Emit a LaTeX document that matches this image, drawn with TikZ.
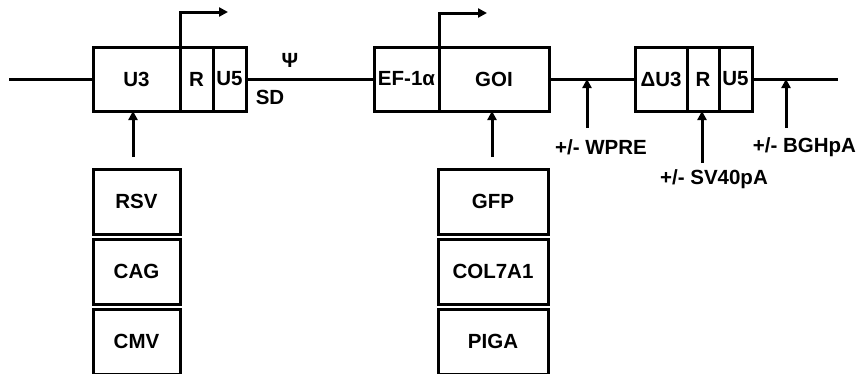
\documentclass[tikz,border=0pt]{standalone}
\usepackage{fontspec}
\setmainfont{Liberation Sans}
\usetikzlibrary{arrows.meta,positioning}
\begin{document}
\begin{tikzpicture}[
    x=1pt, y=-1pt,
    seg/.style={draw, line width=3pt, inner sep=0pt, outer sep=0pt, minimum height=64pt,
                font=\bfseries\fontsize{20.5}{22}\selectfont},
    blk/.style={draw, line width=3pt, inner sep=0pt, outer sep=0pt, minimum height=65pt,
                font=\bfseries\fontsize{20.5}{22}\selectfont},
    lbl/.style={inner sep=0pt, font=\bfseries\fontsize{20.5}{22}\selectfont},
    >={Triangle[width=9pt,length=9pt]},
    wire/.style={line width=3pt},
    prom/.style={->, line width=3pt},
    feed/.style={->, line width=3pt}
  ]
  \useasboundingbox (0,0) rectangle (858,373);
  \def\Y{79}
  % 5' LTR
  \node[seg, minimum width=87pt] (u3) at (136.5,\Y) {U3};
  \node[seg, minimum width=33pt, right=0pt of u3] (r) {R};
  \node[seg, minimum width=33pt, right=0pt of r] (u5) {U5};
  % Internal promoter and gene
  \node[seg, minimum width=65pt] (ef) at (406.5,\Y) {EF-1α};
  \node[seg, minimum width=110pt, right=0pt of ef] (goi) {GOI};
  % 3' SIN LTR
  \node[seg, minimum width=52pt] (du3) at (661,\Y) {ΔU3};
  \node[seg, minimum width=32pt, right=0pt of du3] (rb) {R};
  \node[seg, minimum width=33pt, right=0pt of rb] (u5b) {U5};
  % Backbone
  \coordinate (lend) at (9,\Y);
  \coordinate (rend) at (838,\Y);
  \draw[wire] (lend) -- (u3.west);
  \draw[wire] (u5.east) -- (ef.west);
  \draw[wire] (goi.east) -- (du3.west);
  \draw[wire] (u5b.east) -- (rend);
  \node[lbl] (psi) at (290,60) {Ψ};
  \node[lbl] (sd) at (270,97) {SD};
  % Transcription start sites
  \draw[prom] (u3.north east) -- ++(0,-35) -- ++(48,0);
  \draw[prom] (ef.north east) -- ++(0,-34) -- ++(48,0);
  % Promoter and transgene options
  \foreach \name/\txt [count=\i] in {rsv/RSV, cag/CAG, cmv/CMV}{
    \node[blk, minimum width=87pt] (\name) at (136.5,{201.5+70*(\i-1)}) {\txt};
  }
  \foreach \name/\txt [count=\i] in {gfp/GFP, col/COL7A1, piga/PIGA}{
    \node[blk, minimum width=110pt] (\name) at (493,{201.5+70*(\i-1)}) {\txt};
  }
  \coordinate (tu3) at (133,157);
  \coordinate (tgoi) at (492,157);
  \draw[feed] (tu3) -- (tu3 |- u3.south);
  \draw[feed] (tgoi) -- (tgoi |- goi.south);
  % Optional elements
  \node[lbl] (wpre) at (601,147) {+/- WPRE};
  \node[lbl] (sv) at (714,179) {+/- SV40pA};
  \node[lbl] (bgh) at (804.5,147) {+/- BGHpA};
  \coordinate (twpre) at (587,128);
  \coordinate (tsv) at (702,163);
  \coordinate (tbgh) at (786,128);
  \draw[feed] (twpre) -- (twpre |- goi.east);
  \draw[feed] (tsv) -- (tsv |- rb.south);
  \draw[feed] (tbgh) -- (tbgh |- u5b.east);
\end{tikzpicture}
\end{document}
